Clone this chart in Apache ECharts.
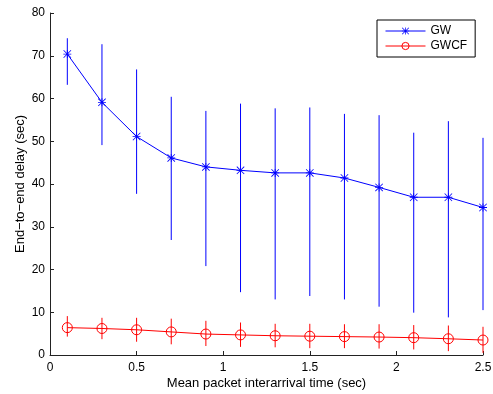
<!DOCTYPE html>
<html>
<head>
<meta charset="utf-8">
<script src="https://cdn.jsdelivr.net/npm/echarts@6/dist/echarts.min.js"></script>
<style>html,body{margin:0;padding:0;background:#fff;}#c{width:493px;height:394px;}</style>
</head>
<body>
<div id="c"></div>
<script>
var xValues = [0.1, 0.3, 0.5, 0.7, 0.9, 1.1, 1.3, 1.5, 1.7, 1.9, 2.1, 2.3, 2.5];
var gwMean = [70.4, 59.1, 51.1, 46.1, 44.0, 43.2, 42.6, 42.6, 41.4, 39.2, 36.9, 36.9, 34.5];
var gwLow  = [63.2, 49.1, 37.7, 26.9, 20.8, 14.7, 13.0, 13.8, 13.0, 11.3, 9.9, 8.8, 10.5];
var gwHigh = [74.1, 72.7, 66.8, 60.4, 57.1, 58.8, 57.7, 57.9, 56.4, 56.1, 52.0, 54.7, 50.8];
var gwcfMean = [6.4, 6.2, 5.9, 5.4, 4.9, 4.7, 4.5, 4.4, 4.3, 4.2, 4.05, 3.8, 3.5];
var gwcfLow  = [4.3, 3.7, 3.1, 2.5, 2.1, 1.9, 1.8, 1.6, 1.6, 1.5, 1.3, 0.9, 0.5];
var gwcfHigh = [9.1, 8.7, 8.7, 8.5, 8.0, 7.6, 7.3, 7.3, 7.2, 7.2, 7.0, 6.9, 6.6];
var xTicks = [0, 0.5, 1, 1.5, 2, 2.5];
var yTicks = [0, 10, 20, 30, 40, 50, 60, 70, 80];
var seriesNames = ['GW', 'GWCF'];
var xTitle = 'Mean packet interarrival time (sec)';
var yTitle = 'End\u2212to\u2212end delay (sec)';

var asterisk = 'path://M4.5 0 L5.5 0 L5.5 10 L4.5 10 Z M0 4.5 L10 4.5 L10 5.5 L0 5.5 Z M0.7 0 L10 9.3 L9.3 10 L0 0.7 Z M9.3 0 L10 0.7 L0.7 10 L0 9.3 Z';

function pairs(xs, ys) { return xs.map(function (x, i) { return [x, ys[i]]; }); }
function errData(xs, lo, hi) { return xs.map(function (x, i) { return [x, lo[i], hi[i]]; }); }
function errSeries(data, color) {
  return {
    type: 'custom',
    data: data,
    silent: true,
    z: 1,
    encode: { x: 0, y: [1, 2] },
    renderItem: function (params, api) {
      var p1 = api.coord([api.value(0), api.value(1)]);
      var p2 = api.coord([api.value(0), api.value(2)]);
      return {
        type: 'line',
        shape: { x1: p1[0], y1: p1[1], x2: p2[0], y2: p2[1] },
        style: { stroke: color, lineWidth: 1 }
      };
    }
  };
}

var font = 'Liberation Sans, Arial, Helvetica, sans-serif';
var axisColor = '#222';
var chart = echarts.init(document.getElementById('c'));
chart.setOption({
  animation: false,
  backgroundColor: '#fff',
  textStyle: { fontFamily: font },
  grid: { left: 50, right: 10, top: 13, bottom: 39, containLabel: false, outerBoundsMode: 'none' },
  legend: {
    data: seriesNames,
    orient: 'vertical',
    left: 377,
    top: 20,
    width: 97,
    itemWidth: 40,
    itemHeight: 9,
    itemGap: 3,
    padding: [5, 8, 5, 8],
    borderColor: '#000',
    borderWidth: 1,
    backgroundColor: '#fff',
    lineStyle: { width: 1 },
    itemStyle: { borderWidth: 1 },
    textStyle: { fontFamily: font, fontSize: 12, color: '#000', padding: [0, 0, 0, 0] }
  },
  xAxis: {
    type: 'value', min: 0, max: 2.5, interval: 0.5,
    name: xTitle, nameLocation: 'middle', nameGap: 22, nameMoveOverlap: false,
    nameTextStyle: { fontFamily: font, fontSize: 13, color: '#000' },
    axisLine: { lineStyle: { color: axisColor, width: 1 } },
    axisTick: { inside: true, length: 4, lineStyle: { color: axisColor } },
    axisLabel: { color: '#000', fontSize: 12, fontFamily: font, margin: 7,
      formatter: function (v) { return xTicks.indexOf(v) >= 0 ? String(v) : ''; } },
    splitLine: { show: false }
  },
  yAxis: {
    type: 'value', min: 0, max: 80, interval: 10,
    name: yTitle, nameLocation: 'middle', nameGap: 23, nameMoveOverlap: false,
    nameTextStyle: { fontFamily: font, fontSize: 13, color: '#000' },
    axisLine: { show: true, lineStyle: { color: axisColor, width: 1 } },
    axisTick: { show: true, inside: true, length: 4, lineStyle: { color: axisColor } },
    axisLabel: { color: '#000', fontSize: 12, fontFamily: font, margin: 5,
      formatter: function (v) { return yTicks.indexOf(v) >= 0 ? String(v) : ''; } },
    splitLine: { show: false }
  },
  series: [
    errSeries(errData(xValues, gwLow, gwHigh), '#0000ff'),
    errSeries(errData(xValues, gwcfLow, gwcfHigh), '#ff0000'),
    {
      name: seriesNames[0], type: 'line', data: pairs(xValues, gwMean), z: 3,
      symbol: asterisk, symbolSize: 8, showAllSymbol: true,
      lineStyle: { color: '#0000ff', width: 1 },
      itemStyle: { color: '#0000ff' }
    },
    {
      name: seriesNames[1], type: 'line', data: pairs(xValues, gwcfMean), z: 3,
      symbol: 'circle', symbolSize: 10, showAllSymbol: true,
      lineStyle: { color: '#ff0000', width: 1 },
      itemStyle: { color: 'rgba(255,0,0,0)', borderColor: '#ff0000', borderWidth: 1 }
    }
  ]
});
</script>
</body>
</html>
